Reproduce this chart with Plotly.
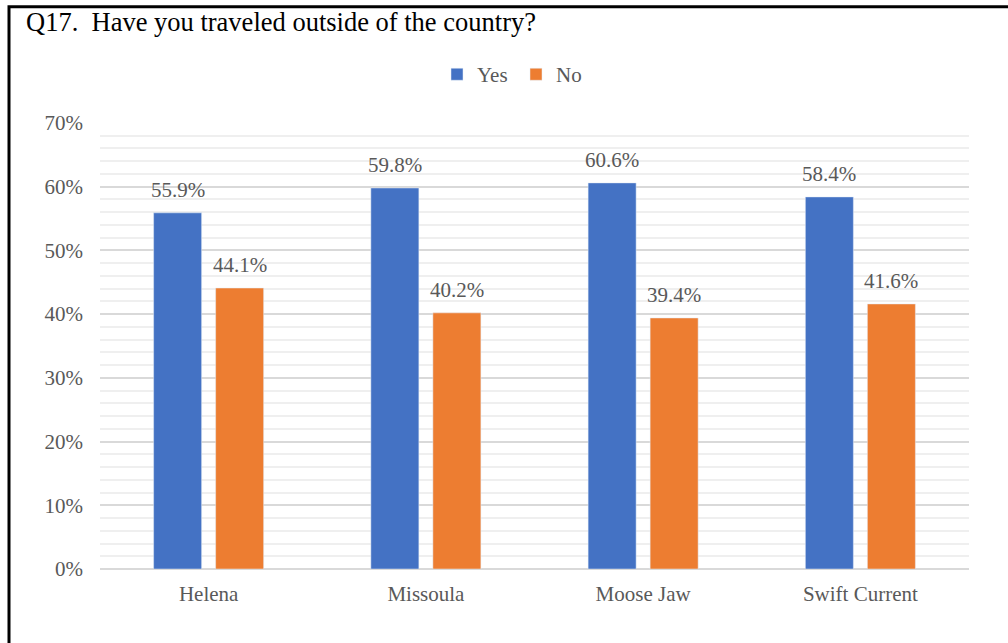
import plotly.graph_objects as go

# Survey results: share of respondents answering Q17
cities = ["Helena", "Missoula", "Moose Jaw", "Swift Current"]
yes_pct = [55.9, 59.8, 60.6, 58.4]
no_pct = [44.1, 40.2, 39.4, 41.6]
y_ticks = [0, 10, 20, 30, 40, 50, 60, 70]
y_tick_text = [f"{v}%" for v in y_ticks]

SERIF = "Liberation Serif"
GRAY = "#595959"
BLUE = "#4472C4"
ORANGE = "#ED7D31"

W, H = 1008, 643
ML, MR, MT, MB = 100, 39, 122.5, 73.7
PW = W - ML - MR
PH = H - MT - MB

BARGAP = 0.429
fig = go.Figure()
fig.add_trace(go.Bar(name="Yes", x=cities, y=yes_pct, marker_color=BLUE))
fig.add_trace(go.Bar(name="No", x=cities, y=no_pct, marker_color=ORANGE))

# value labels above each bar
half = (1 - BARGAP) / 4
annotations = []
for i in range(len(cities)):
    for off, vals in ((-half, yes_pct), (half, no_pct)):
        annotations.append(dict(
            x=i + off, y=vals[i], xref="x", yref="y",
            text=f"{vals[i]:.1f}%", showarrow=False,
            yanchor="bottom", yshift=9,
            font=dict(family=SERIF, size=21, color=GRAY),
        ))


def px_to_paper_x(px):
    return (px - ML) / PW


def px_to_paper_y(py):
    return (H - MB - py) / PH


# outer frame (right/bottom edges fall outside the canvas)
shapes = [dict(
    type="rect", xref="paper", yref="paper",
    x0=px_to_paper_x(9), x1=px_to_paper_x(1020),
    y0=px_to_paper_y(670), y1=px_to_paper_y(6),
    line=dict(color="black", width=3), fillcolor="rgba(0,0,0,0)",
)]

fig.update_layout(
    width=W, height=H,
    margin=dict(l=ML, r=MR, t=MT, b=MB, pad=0),
    paper_bgcolor="white", plot_bgcolor="white",
    barmode="group", bargap=BARGAP, bargroupgap=0.226,
    title=dict(
        text="Q17.  Have you traveled outside of the country?",
        xref="container", yref="container",
        x=26 / W, xanchor="left", y=1 - 22 / H, yanchor="middle",
        font=dict(family=SERIF, size=26.5, color="black"),
    ),
    legend=dict(
        orientation="h", xref="paper", yref="paper",
        x=px_to_paper_x(516), xanchor="center",
        y=px_to_paper_y(74), yanchor="middle",
        font=dict(family=SERIF, size=21, color=GRAY),
        tracegroupgap=0, itemwidth=30, entrywidth=34,
    ),
    annotations=annotations,
    shapes=shapes,
    showlegend=True,
    xaxis=dict(
        type="category", showline=False, showgrid=False, ticks="",
        tickfont=dict(family=SERIF, size=21, color=GRAY),
        ticklabelstandoff=10,
    ),
    yaxis=dict(
        range=[0, 70], tickmode="array", tickvals=y_ticks, ticktext=y_tick_text,
        showgrid=True, gridcolor="#D9D9D9", gridwidth=2,
        zeroline=True, zerolinecolor="#D9D9D9", zerolinewidth=2,
        showline=False, ticks="",
        tickfont=dict(family=SERIF, size=21, color=GRAY),
        ticklabelstandoff=16,
        minor=dict(tickmode="linear", dtick=2, tick0=0, showgrid=True,
                   gridcolor="#EFEFEF", gridwidth=2),
    ),
)

fig.write_html("out.html")
